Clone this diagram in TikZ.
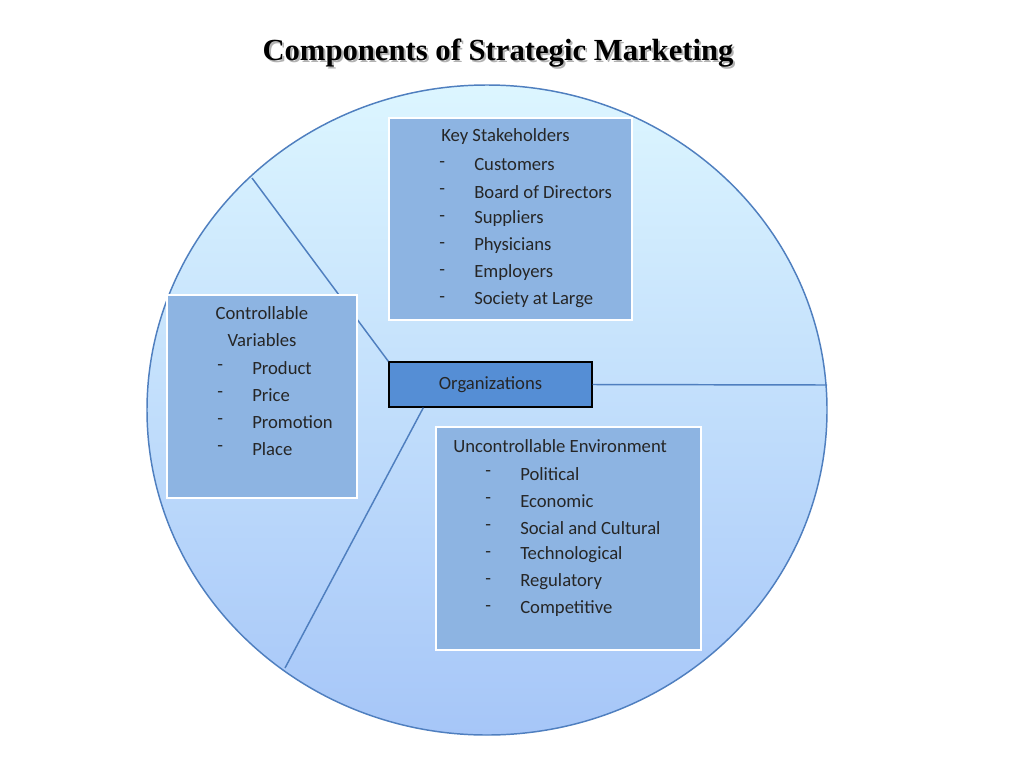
\documentclass[tikz,border=0pt]{standalone}
\usepackage{fontspec}
\setmainfont{Carlito}
\newfontfamily\titlefont{Liberation Serif}
\begin{document}
\begin{tikzpicture}[x=0.75pt,y=-0.75pt,
  panel/.style={draw=white,line width=1.2pt,fill=boxblue},
  txt/.style={anchor=west,inner sep=0pt,font=\fontsize{14}{16}\selectfont,text=black!85},
  seg/.style={draw=rimblue,line width=1.1pt}]
\definecolor{rimblue}{HTML}{4F7FBF}
\definecolor{boxblue}{HTML}{8DB4E2}
\definecolor{orgblue}{HTML}{558ED5}
\useasboundingbox (0,0) rectangle (1024,768);
\fill[white] (0,0) rectangle (1024,768);
\node[font=\titlefont\bfseries\fontsize{23}{26}\selectfont,text=gray!60] (tsh) at (500,55) {Components of Strategic Marketing};
\node[font=\titlefont\bfseries\fontsize{23}{26}\selectfont] (title) at (498,53) {Components of Strategic Marketing};
\shade[top color=blue!4!white!90!cyan, bottom color={rgb,255:red,166;green,198;blue,248}] (487,410) ellipse [x radius=340, y radius=325];
\draw[seg] (487,410) ellipse [x radius=340, y radius=325];
\coordinate (p1) at (252,178);
\coordinate (p2) at (285,668);
\coordinate (p3) at (827,385);
% org box
\node[draw=black,line width=1pt,fill=orgblue,minimum width=203*0.75pt,minimum height=45*0.75pt,font=\fontsize{14}{16}\selectfont,text=black!85] (org) at (490.5,384.5) {Organizations};
\draw[seg] (p1) -- (org.north west);
\draw[seg] (p2) -- ([xshift=35*0.75pt]org.south west);
\draw[seg] (org.east) -- (p3);
% boxes
\draw[panel] (389,118) rectangle (632,320);
\draw[panel] (167,295) rectangle (357,498);
\draw[panel] (436,427) rectangle (701,650);
\node[txt] (k0) at (441,137) {Key Stakeholders};
\foreach \t [count=\i] in {Customers,Board of Directors,Suppliers,Physicians,Employers,Society at Large}{
  \node[txt] (kd\i) at (439,138+27*\i) {-};
  \node[txt] (k\i) at (474,138+27*\i) {\t};}
\node[txt,anchor=center] (c0) at (262,313) {Controllable};
\node[txt,anchor=center] (c00) at (262,340) {Variables};
\foreach \t [count=\i] in {Product,Price,Promotion,Place}{
  \node[txt] (cd\i) at (217,341+27*\i) {-};
  \node[txt] (c\i) at (252,341+27*\i) {\t};}
\node[txt] (u0) at (453,446) {Uncontrollable Environment};
\foreach \t [count=\i] in {Political,Economic,Social and Cultural,Technological,Regulatory,Competitive}{
  \node[txt] (ud\i) at (485,447+27*\i) {-};
  \node[txt] (u\i) at (520,447+27*\i) {\t};}
\end{tikzpicture}
\end{document}
